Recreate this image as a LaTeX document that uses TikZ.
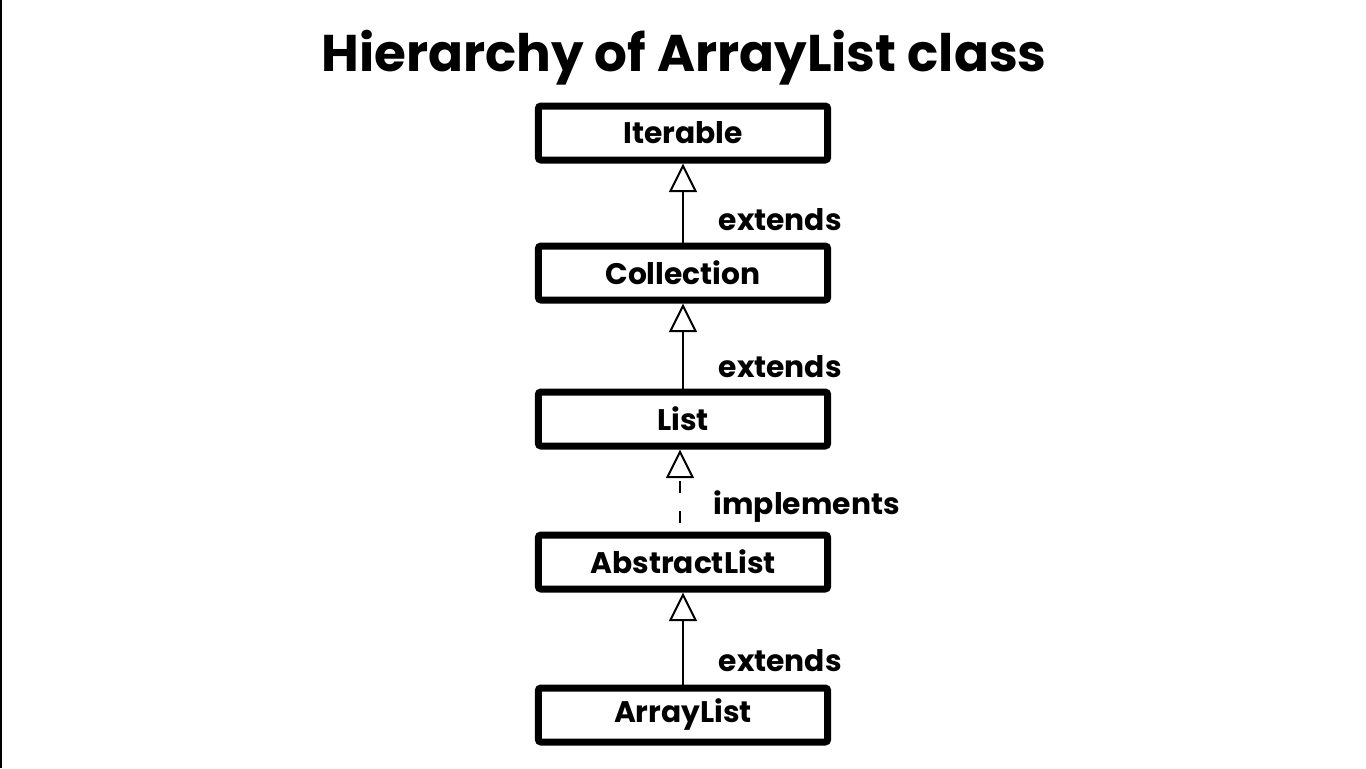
\documentclass[tikz,border=0pt]{standalone}
\usepackage{fontspec}
\setmainfont{Poppins}
\usetikzlibrary{arrows.meta}

\begin{document}
\begin{tikzpicture}[x=0.75pt, y=-0.75pt, every node/.style={font=\bfseries\fontsize{22.3}{26}\selectfont},
	classbox/.style={draw, line width=5.25pt, rounded corners=2pt, minimum width=217pt, minimum height=40.5pt, inner sep=0pt},
	inherit/.style={line width=2pt, -{Triangle[open, length=21.5pt, width=21pt, line width=1.5pt]}}]
	\useasboundingbox (0,0) rectangle (1366,768);
	\draw[line width=1.5pt] (1,0) -- (1,768);
	\node[font=\bfseries\fontsize{38.7}{46}\selectfont, anchor=base] (title) at (684,71) {Hierarchy of ArrayList class};
	% classes
	\node[classbox] (iterable) at (683,133) {Iterable};
	\node[classbox] (collection) at (683,273) {Collection};
	\node[classbox] (list) at (683,419) {List};
	\node[classbox] (abstractlist) at (683,562) {AbstractList};
	\node[classbox] (arraylist) at (683,715) {ArrayList};
	% relations
	\draw[inherit] (collection.north) -- (iterable.south);
	\draw[inherit] (list.north) -- (collection.south);
	\draw[inherit, dash pattern=on 9pt off 13.5pt, dash phase=15.75pt] ([xshift=-2.25pt]abstractlist.north) -- ([xshift=-2.25pt]list.south);
	\draw[inherit] (arraylist.north) -- (abstractlist.south);
	\node[anchor=base west] (ext1) at (714,230) {extends};
	\node[anchor=base west] (ext2) at (714,377) {extends};
	\node[anchor=base west] (impl) at (709,514) {implements};
	\node[anchor=base west] (ext3) at (714,671) {extends};
\end{tikzpicture}
\end{document}
